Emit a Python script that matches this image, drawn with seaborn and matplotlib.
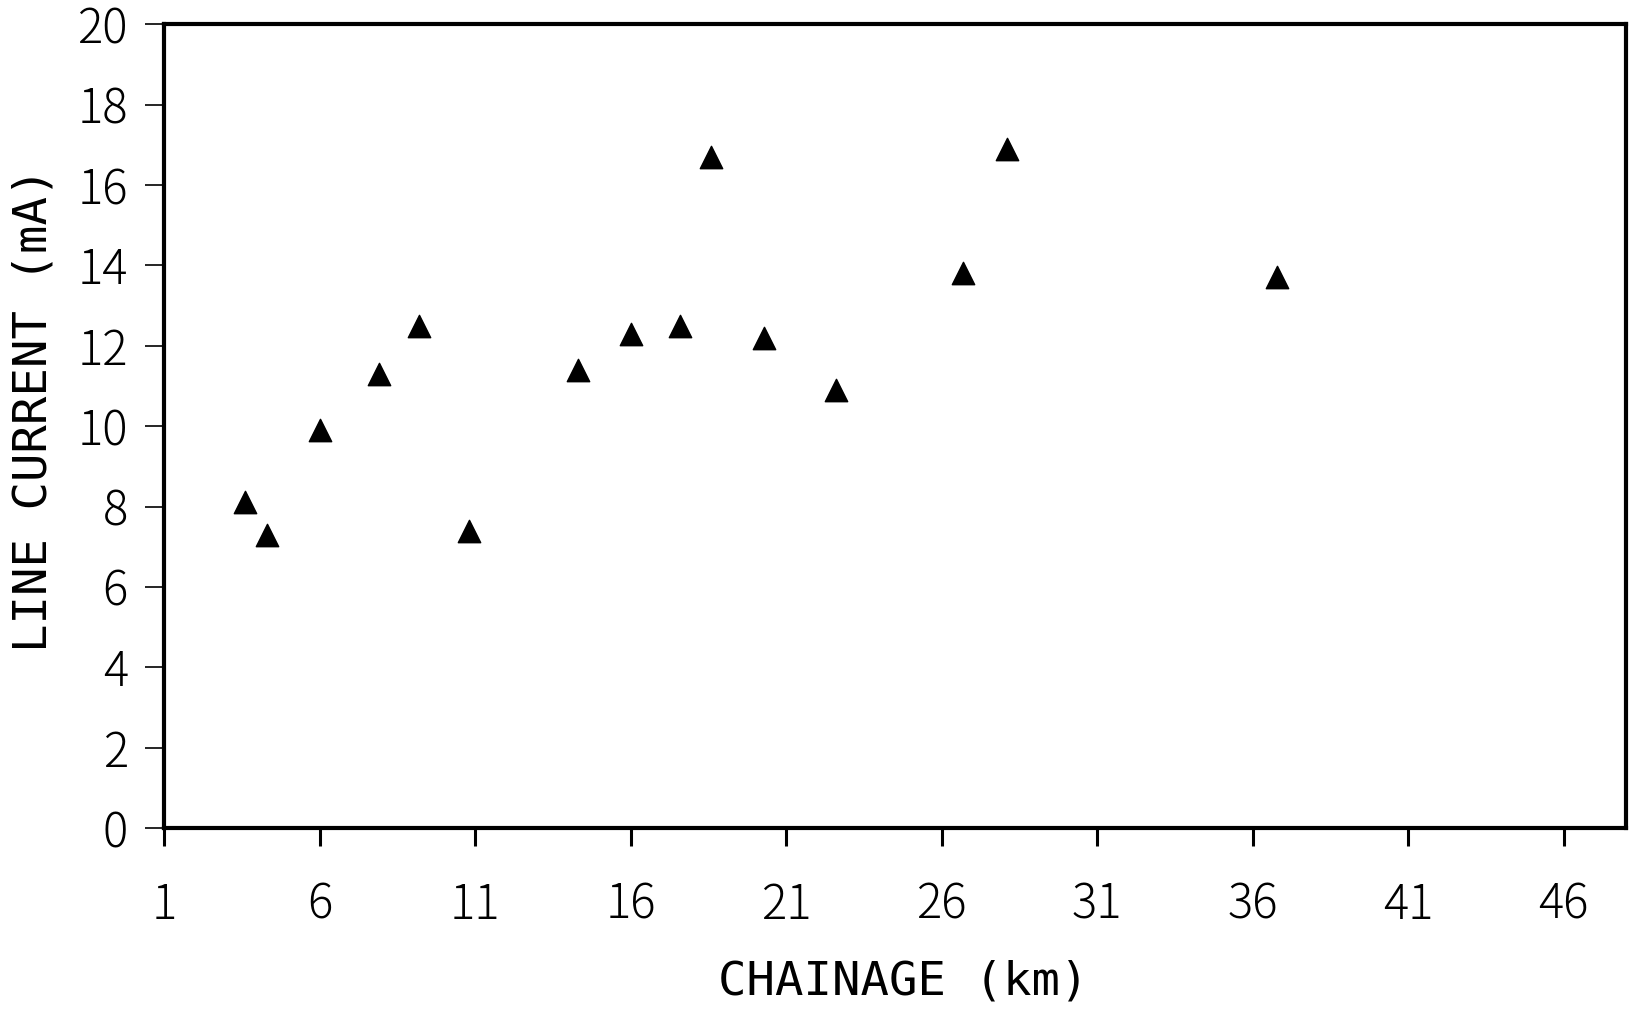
import matplotlib
matplotlib.use("Agg")
import matplotlib.pyplot as plt
import seaborn as sns
import pandas as pd

chainage_km = [3.6, 4.3, 6.0, 7.9, 9.2, 10.8, 14.3, 16.0, 17.6, 18.6, 20.3, 22.6, 26.7, 28.1, 36.8]
line_current_ma = [8.1, 7.3, 9.9, 11.3, 12.5, 7.4, 11.4, 12.3, 12.5, 16.7, 12.2, 10.9, 13.8, 16.9, 13.7]
x_ticks = [1, 6, 11, 16, 21, 26, 31, 36, 41, 46]
y_ticks = [0, 2, 4, 6, 8, 10, 12, 14, 16, 18, 20]

df = pd.DataFrame({"chainage": chainage_km, "current": line_current_ma})

sns.set_theme(style="white")
plt.rcParams["font.family"] = ["Noto Sans CJK JP", "DejaVu Sans"]

fig = plt.figure(figsize=(16.29, 10.11), dpi=100)
ax = fig.add_axes([0.1007, 0.181, 0.8973, 0.795])

sns.scatterplot(data=df, x="chainage", y="current", marker="^", s=260,
                color="black", edgecolor="black", linewidth=1, ax=ax, legend=False)

ax.set_xlim(1, 48)
ax.set_ylim(0, 20)
ax.set_xticks(x_ticks)
ax.set_yticks(y_ticks)
ax.set_xticklabels([str(v) for v in x_ticks])
ax.set_yticklabels([str(v) for v in y_ticks])

for s in ax.spines.values():
    s.set_visible(True)
    s.set_color("black")
    s.set_linewidth(3)

ax.tick_params(axis="x", direction="out", length=13, width=2.2, color="black", pad=25,
               labelsize=34, bottom=True)
ax.tick_params(axis="y", direction="out", length=14, width=1.2, color="black", pad=12,
               labelsize=34, left=True)
for lab in ax.get_xticklabels() + ax.get_yticklabels():
    lab.set_fontweight("light")
    lab.set_color("black")

mono = ["DejaVu Sans Mono"]
ax.set_xlabel("CHAINAGE (km)", fontsize=34, family=mono, color="black")
ax.set_ylabel("LINE CURRENT (mA)", fontsize=34, family=mono, color="black")
ax.xaxis.set_label_coords(0.506, -0.192)
ax.xaxis.label.set_va("center")
ax.yaxis.set_label_coords(-0.089, 0.52)
ax.yaxis.label.set_va("center")
ax.grid(False)

fig.savefig("out.png", dpi=100, facecolor="white")
